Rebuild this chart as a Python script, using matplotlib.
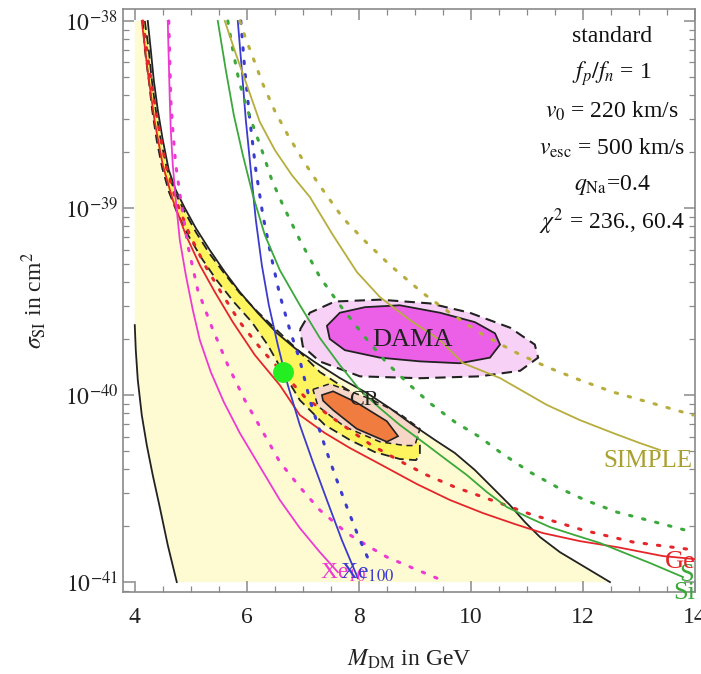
import matplotlib
matplotlib.use("Agg")
import matplotlib.pyplot as plt
import numpy as np

plt.rcParams['font.family'] = ['Liberation Serif', 'DejaVu Serif']
plt.rcParams['mathtext.fontset'] = 'stix'

# ---------------- data (M in GeV, log10 sigma in cm^2) ----------------
black_M = [4.232, 4.286, 4.339, 4.411, 4.5, 4.607, 4.732, 4.893, 5.089, 5.339, 5.607, 5.875,
           6.196, 6.536, 6.857, 7.214, 7.661, 8.143, 8.554, 8.964, 9.357, 9.714, 10.071,
           10.429, 10.696, 10.964, 11.232, 11.589, 12.036, 12.482]
black_logs = [-38.0, -38.155, -38.316, -38.476, -38.636, -38.797, -38.904, -39.0, -39.107,
              -39.225, -39.342, -39.449, -39.561, -39.668, -39.749, -39.824, -39.909, -39.989,
              -40.07, -40.16, -40.24, -40.31, -40.401, -40.508, -40.588, -40.679, -40.759,
              -40.84, -40.92, -41.0]

black_left_M = [4.0, 4.018, 4.054, 4.125, 4.214, 4.321, 4.446, 4.589, 4.75]
black_left_logs = [-39.626, -39.759, -39.92, -40.107, -40.267, -40.428, -40.599, -40.802, -41.0]

red_M = [4.125, 4.232, 4.357, 4.5, 4.679, 4.911, 5.161, 5.429, 5.75, 6.143, 6.589, 6.946,
         7.393, 7.839, 8.375, 9.036, 9.625, 10.214, 10.786, 11.286, 11.946, 12.607, 13.429, 14.0]
red_logs = [-38.0, -38.273, -38.54, -38.77, -38.957, -39.144, -39.305, -39.449, -39.61,
            -39.786, -39.947, -40.107, -40.203, -40.283, -40.369, -40.476, -40.561, -40.631,
            -40.69, -40.738, -40.781, -40.813, -40.861, -40.877]

red_dot_M = [4.143, 4.268, 4.411, 4.554, 4.732, 4.982, 5.25, 5.536, 5.875, 6.268, 6.679,
             7.036, 7.482, 7.839, 8.196, 8.732, 9.214, 9.714, 10.214, 11.054, 12.0, 12.893, 14.0]
red_dot_logs = [-38.0, -38.273, -38.54, -38.77, -38.957, -39.144, -39.305, -39.449, -39.61,
                -39.759, -39.893, -40.011, -40.112, -40.187, -40.262, -40.353, -40.428,
                -40.492, -40.545, -40.636, -40.722, -40.786, -40.829]

mag_M = [4.589, 4.607, 4.625, 4.643, 4.679, 4.732, 4.804, 4.911, 5.036, 5.161, 5.357, 5.589,
         5.875, 6.196, 6.589, 6.946, 7.304, 7.625]
mag_logs = [-38.0, -38.209, -38.422, -38.583, -38.77, -38.957, -39.171, -39.358, -39.545,
            -39.706, -39.877, -40.037, -40.203, -40.364, -40.561, -40.711, -40.84, -40.947]

mag_dot_M = [4.607, 4.625, 4.643, 4.679, 4.732, 4.821, 4.946, 5.125, 5.375, 5.661, 5.964,
             6.268, 6.589, 6.946, 7.304, 7.786, 8.196, 8.5, 8.964, 9.393]
mag_dot_logs = [-38.0, -38.209, -38.422, -38.583, -38.77, -38.957, -39.198, -39.439, -39.636,
                -39.84, -40.027, -40.187, -40.358, -40.492, -40.615, -40.738, -40.813, -40.866,
                -40.925, -40.979]

blue_M = [5.839, 5.911, 5.982, 6.071, 6.161, 6.268, 6.393, 6.554, 6.732, 6.946, 7.179, 7.429,
          7.696, 7.982]
blue_logs = [-38.0, -38.262, -38.529, -38.797, -39.064, -39.305, -39.519, -39.733, -39.947,
             -40.16, -40.358, -40.561, -40.775, -40.979]

blue_dot_M = [5.893, 5.964, 6.054, 6.161, 6.286, 6.429, 6.589, 6.768, 6.946, 7.125, 7.268,
              7.429, 7.607, 7.786, 7.982, 8.161]
blue_dot_logs = [-38.0, -38.262, -38.529, -38.797, -39.037, -39.251, -39.465, -39.652, -39.813,
                 -40.027, -40.16, -40.305, -40.455, -40.599, -40.749, -40.872]

green_M = [5.482, 5.625, 5.768, 5.929, 6.107, 6.321, 6.589, 6.946, 7.304, 7.661, 8.018, 8.375,
           8.732, 9.214, 9.571, 9.929, 10.286, 10.643, 11.054, 11.411, 11.857, 12.304, 12.75,
           13.196, 13.786]
green_logs = [-38.0, -38.262, -38.503, -38.717, -38.93, -39.144, -39.332, -39.519, -39.695,
              -39.84, -39.973, -40.07, -40.16, -40.267, -40.348, -40.428, -40.519, -40.599,
              -40.658, -40.706, -40.749, -40.791, -40.845, -40.898, -40.973]

green_dot_M = [5.661, 5.75, 5.857, 5.982, 6.107, 6.268, 6.446, 6.643, 6.946, 7.304, 7.661,
               8.107, 8.5, 8.911, 9.268, 9.714, 10.161, 10.518, 11.054, 11.536, 12.036, 12.607,
               13.286, 13.964]
green_dot_logs = [-38.0, -38.155, -38.316, -38.449, -38.556, -38.69, -38.85, -38.984, -39.171,
                  -39.369, -39.519, -39.69, -39.829, -39.947, -40.043, -40.144, -40.225,
                  -40.305, -40.412, -40.492, -40.561, -40.626, -40.679, -40.733]

olive_M = [5.607, 5.804, 6.0, 6.232, 6.5, 6.804, 7.125, 7.536, 7.964, 8.375, 8.911, 9.446,
           9.857, 10.518, 11.357, 11.946, 12.536, 13.018, 13.375]
olive_logs = [-38.0, -38.176, -38.342, -38.54, -38.69, -38.824, -38.941, -39.144, -39.342,
              -39.476, -39.599, -39.706, -39.829, -39.909, -40.053, -40.134, -40.203, -40.257,
              -40.294]

olive_dot_M = [5.875, 5.982, 6.107, 6.286, 6.5, 6.732, 7.0, 7.268, 7.714, 8.107, 8.554, 9.143,
               9.625, 10.161, 10.786, 11.357, 11.946, 12.536, 13.286, 13.964]
olive_dot_logs = [-38.0, -38.096, -38.193, -38.337, -38.481, -38.61, -38.743, -38.866, -39.053,
                  -39.176, -39.305, -39.455, -39.561, -39.668, -39.77, -39.85, -39.92, -39.984,
                  -40.048, -40.107]

# CoGeNT-like band: upper edge (top -> tip) and lower edge (top -> tip)
band_up_M = [4.179, 4.25, 4.304, 4.375, 4.464, 4.571, 4.714, 4.875, 5.089, 5.339, 5.607,
             5.875, 6.196, 6.589, 6.946, 7.304, 7.75, 8.143, 8.554, 8.857, 9.018, 9.089, 9.089]
band_up_logs = [-38.0, -38.155, -38.316, -38.476, -38.636, -38.786, -38.914, -39.011, -39.128,
                -39.246, -39.353, -39.455, -39.556, -39.668, -39.77, -39.877, -39.963, -40.037,
                -40.096, -40.144, -40.198, -40.267, -40.321]
band_lo_M = [4.143, 4.18, 4.25, 4.31, 4.39, 4.49, 4.61, 4.75, 4.95, 5.19, 5.46, 5.77,
             6.09, 6.375, 6.625, 6.946, 7.393, 7.839, 8.286, 8.732, 9.018]
band_lo_logs = [-38.0, -38.155, -38.316, -38.476, -38.636, -38.786, -38.914, -39.021, -39.144,
                -39.267, -39.385, -39.503, -39.61, -39.733, -39.866, -40.027, -40.16, -40.24,
                -40.305, -40.342, -40.348]

# DAMA regions
dama_in_M = [7.43, 7.66, 8.11, 8.73, 9.45, 10.07, 10.43, 10.52, 10.34, 9.8, 9.09, 8.375, 7.75, 7.48]
dama_in_logs = [-39.63, -39.56, -39.53, -39.52, -39.56, -39.61, -39.67, -39.73, -39.8, -39.83,
                -39.82, -39.80, -39.76, -39.70]
dama_out_M = [6.95, 7.125, 7.57, 8.375, 9.27, 9.98, 10.7, 11.14, 11.2, 10.88, 10.16, 9.09,
              8.02, 7.3, 7.0]
dama_out_logs = [-39.65, -39.56, -39.50, -39.49, -39.51, -39.56, -39.64, -39.73, -39.80,
                 -39.87, -39.90, -39.91, -39.90, -39.82, -39.74]

# CR regions
cr_in_M = [7.34, 7.54, 7.96, 8.5, 8.7, 8.5, 7.96, 7.54, 7.36]
cr_in_logs = [-40.0, -39.98, -40.04, -40.14, -40.22, -40.25, -40.18, -40.08, -40.03]
cr_out_M = [7.18, 7.48, 8.2, 8.73, 9.09, 9.0, 8.82, 8.375, 7.75, 7.27]
cr_out_logs = [-39.97, -39.94, -40.02, -40.1, -40.18, -40.27, -40.27, -40.25, -40.17, -40.06]

best_fit = (6.64, -39.877)

info_lines = ['standard', r'$f_p/f_n$ = 1', r'$v_0$ = 220 km/s', r'$v_{\rm esc}$ = 500 km/s',
              r'$q_{\rm Na}$=0.4', r'$\chi^2$ = 236., 60.4']

# ---------------- figure ----------------
W, H = 701, 674
fig = plt.figure(figsize=(W / 100, H / 100), dpi=100)
ax = fig.add_axes([123 / W, 1 - 592 / H, (695 - 123) / W, (592 - 9) / H])
ax.set_yscale('log')
ax.set_xlim(3.79, 14.0)
ax.set_ylim(10 ** -41.053, 10 ** -37.936)


def P(v):
    return np.power(10.0, np.asarray(v, dtype=float))


C_RED = '#e4262b'
C_BLK = '#222222'
C_MAG = '#ee3ad2'
C_BLU = '#3b3bd0'
C_GRN = '#3aa83a'
C_OLV = '#b7ad3c'

# pale yellow allowed region: x=4 edge, main black curve, bottom, left black curve
pale_M = [4.0] + black_M + black_left_M[::-1]
pale_L = [-38.0] + black_logs + black_left_logs[::-1]
ax.fill(pale_M, P(pale_L), color='#fefbd3', lw=0, zorder=1)

# yellow band
bM = band_up_M + band_lo_M[::-1]
bL = band_up_logs + band_lo_logs[::-1]
ax.fill(bM, P(bL), facecolor='#fdf45e', edgecolor=C_BLK, lw=1.3,
        linestyle=(0, (5, 3)), zorder=2)

# DAMA
ax.fill(dama_out_M, P(dama_out_logs), facecolor='#f8d2f6', edgecolor=C_BLK,
        lw=1.5, linestyle=(0, (5, 3)), zorder=2)
ax.fill(dama_in_M, P(dama_in_logs), facecolor='#ec60e8', edgecolor=C_BLK, lw=1.3, zorder=3)

# CR
ax.fill(cr_out_M, P(cr_out_logs), facecolor='#f6d6c6', edgecolor=C_BLK,
        lw=1.1, linestyle=(0, (4, 3)), zorder=3)
ax.fill(cr_in_M, P(cr_in_logs), facecolor='#f07c40', edgecolor=C_BLK, lw=1.2, zorder=3)

dot = (0, (0.8, 3.6))


def line(M, L, c, dotted=False):
    if dotted:
        ax.plot(M, P(L), color=c, lw=2.2, ls=dot, dash_capstyle='round', zorder=4)
    else:
        ax.plot(M, P(L), color=c, lw=1.3, zorder=4)


line(black_M, black_logs, C_BLK)
line(black_left_M, black_left_logs, C_BLK)
line(red_dot_M, red_dot_logs, C_RED, True)
line(red_M, red_logs, C_RED)
line(mag_dot_M, mag_dot_logs, C_MAG, True)
line(mag_M, mag_logs, C_MAG)
line(blue_dot_M, blue_dot_logs, C_BLU, True)
line(blue_M, blue_logs, C_BLU)
line(green_dot_M, green_dot_logs, C_GRN, True)
line(green_M, green_logs, C_GRN)
line(olive_dot_M, olive_dot_logs, C_OLV, True)
line(olive_M, olive_logs, C_OLV)

ax.plot([best_fit[0]], [P(best_fit[1])], 'o', ms=14, color='#22ee22', zorder=6)

# labels in plot
ax.text(8.964, P(-39.706), 'DAMA', fontsize=19, ha='center', va='center', color='#222222', zorder=7)
ax.text(8.1, P(-40.03), 'CR', fontsize=16, ha='center', va='center', color='#222222', zorder=7)
ax.text(13.16, P(-40.35), 'SIMPLE', fontsize=18, ha='center', va='center', color='#a9a030', zorder=7)
ax.text(13.72, P(-40.96), 'Si', fontsize=19, ha='left', va='center', color=C_GRN, zorder=7,
        clip_on=True)
ax.text(13.46, P(-40.89), 'Ge', fontsize=19, ha='left', va='center', color=C_RED, zorder=7,
        clip_on=True)
ax.text(13.62, P(-41.06), 'Si', fontsize=19, ha='left', va='center', color=C_GRN, zorder=7)
ax.text(7.3, P(-40.95), r'Xe$_{10}$', fontsize=17, ha='left', va='center', color=C_MAG, zorder=7)
ax.text(7.66, P(-40.95), r'Xe$_{100}$', fontsize=17, ha='left', va='center', color=C_BLU, zorder=7)

for i, s in enumerate(info_lines):
    ax.text(0.855, 1 - (37 + 37 * i - 9) / 583, s, transform=ax.transAxes, fontsize=17,
            ha='center', va='center', color='#111111', zorder=7)

# axes styling
for sp in ax.spines.values():
    sp.set_color('#8a8a8a')
    sp.set_linewidth(1.2)
ax.set_xticks([4, 6, 8, 10, 12, 14])
ax.set_xticks(np.arange(4, 14.01, 0.5), minor=True)
ax.set_xticklabels(['4', '6', '8', '10', '12', '14'])
ax.set_yticks([1e-41, 1e-40, 1e-39, 1e-38])
ax.set_yticklabels([r'$10^{-41}$', r'$10^{-40}$', r'$10^{-39}$', r'$10^{-38}$'])
ax.tick_params(which='both', direction='in', top=True, right=True, color='#8a8a8a',
               labelsize=17, labelcolor='#222222')
ax.tick_params(axis='x', which='major', pad=11)
ax.tick_params(which='major', length=8, width=1.1)
ax.tick_params(which='minor', length=4.5, width=0.9)
ax.set_xlabel(r'$M_{\rm DM}$ in GeV', fontsize=17, labelpad=14, color='#222222')
ax.set_ylabel(r'$\sigma_{\rm SI}$ in cm$^2$', fontsize=17, labelpad=12, color='#222222')

fig.savefig('out.png', dpi=100)
